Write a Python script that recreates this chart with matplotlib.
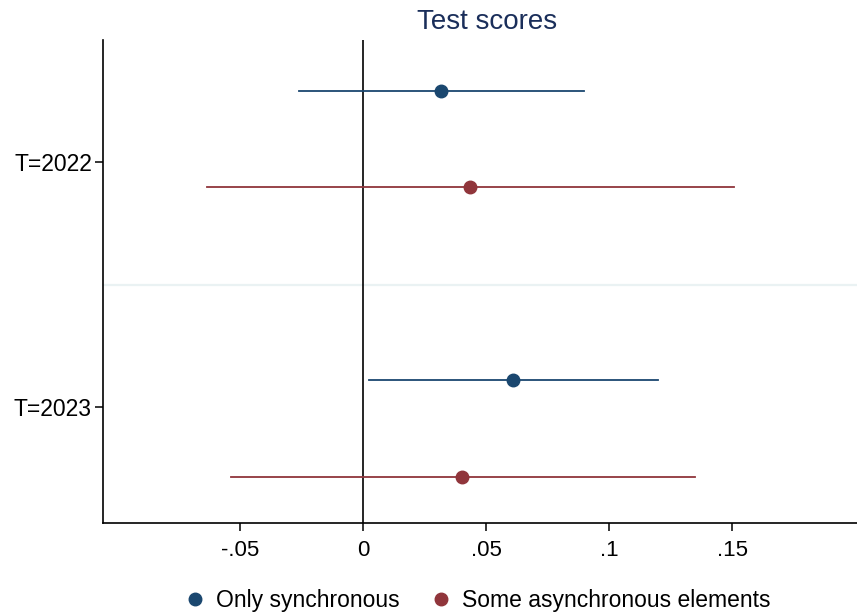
import matplotlib
matplotlib.use("Agg")
import matplotlib.pyplot as plt
from matplotlib.lines import Line2D

plt.rcParams['font.family'] = ['Liberation Sans', 'DejaVu Sans']

title = "Test scores"
groups = ["T=2022", "T=2023"]
series = ["Only synchronous", "Some asynchronous elements"]
colors = ["#1a476f", "#90353b"]
# point estimates and confidence intervals, per series, per group
est = [[0.0317, 0.0610], [0.0435, 0.0402]]
lo = [[-0.0260, 0.0024], [-0.0634, -0.0537]]
hi = [[0.0898, 0.1200], [0.1508, 0.1350]]
xticks = [-0.05, 0, 0.05, 0.1, 0.15]
xticklabels = ["-.05", "0", ".05", ".1", ".15"]

# vertical offsets of each series within a group (layout)
offsets = [[-0.29, -0.11], [0.102, 0.286]]

fig = plt.figure(figsize=(8.57, 6.14), dpi=100)
ax = fig.add_axes([103/857, 1-523/614, 1-103/857, (523-40)/614])

ax.axvline(0, color="black", lw=1.2, zorder=1)
ax.axhline(0.5, color="#eaf2f3", lw=1.6, zorder=0)

for s in range(len(series)):
    for g in range(len(groups)):
        y = g + offsets[s][g]
        ax.plot([lo[s][g], hi[s][g]], [y, y], color=colors[s], lw=1.3, zorder=2)
        ax.plot(est[s][g], y, 'o', color=colors[s], ms=9, zorder=3)

ax.set_xlim(-0.1057, 0.2008)
ax.set_ylim(1.473, -0.498)
ax.set_yticks(range(len(groups)))
ax.set_yticklabels(groups, fontsize=16.5)
ax.set_xticks(xticks)
ax.set_xticklabels(xticklabels, fontsize=16)
ax.tick_params(axis='both', length=6, width=1.1, color='black', direction='out')
ax.tick_params(axis='y', pad=2)
ax.tick_params(axis='x', pad=6)
for sp in ['top', 'right']:
    ax.spines[sp].set_visible(False)
for sp in ['left', 'bottom']:
    ax.spines[sp].set_linewidth(1.2)
    ax.spines[sp].set_color('black')

fig.text(487/857, 1-22/614, title, ha='center', va='center', fontsize=20, color="#1a2e5a")

handles = [Line2D([], [], marker='o', ls='none', color=c, ms=9) for c in colors]
fig.legend(handles, series, loc='center', bbox_to_anchor=(477/857, 1-601/614),
           ncol=2, frameon=False, fontsize=16.5, handletextpad=0.4,
           columnspacing=1.3, handlelength=1.0, borderpad=0.2)

fig.savefig("out.png", dpi=100)
